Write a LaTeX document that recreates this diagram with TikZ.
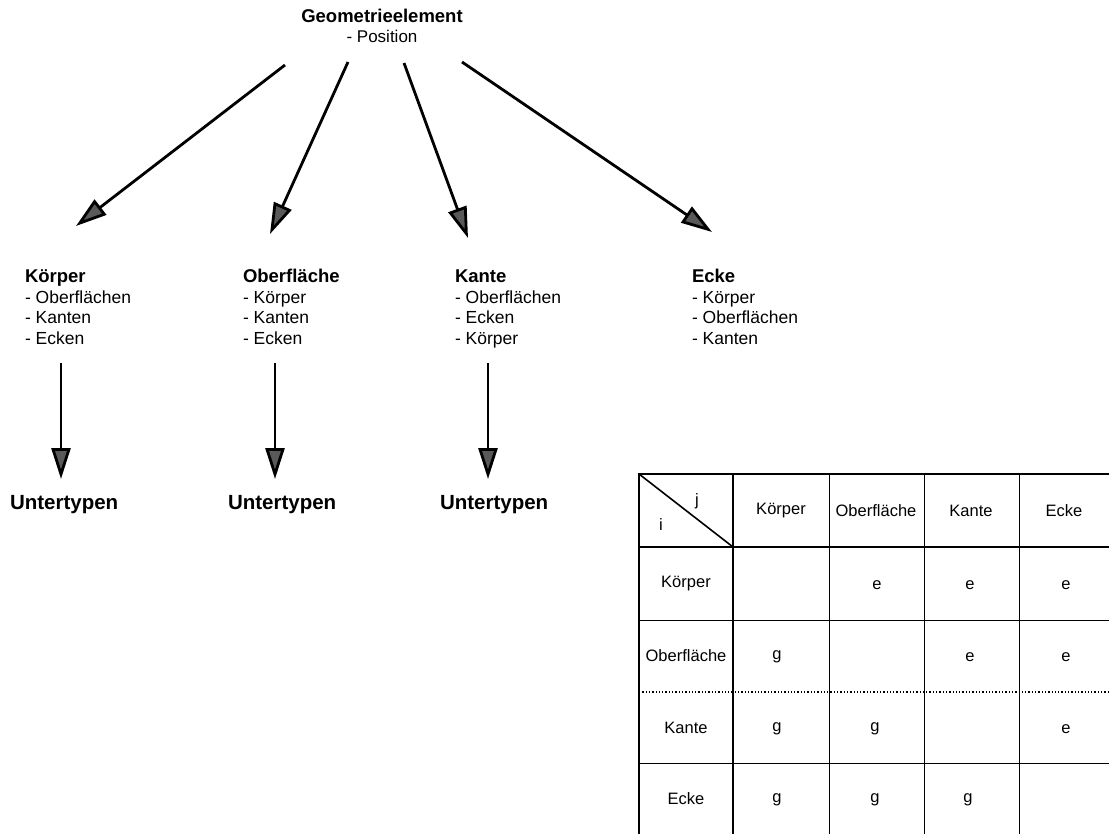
\documentclass[tikz,border=0pt]{standalone}
\usepackage{fontspec}
\setmainfont{Liberation Sans}
\usetikzlibrary{arrows.meta}
\begin{document}
\begin{tikzpicture}[x=1pt,y=-1pt,
  every node/.style={inner sep=0pt, outer sep=0pt},
  grp/.style={anchor=base west, align=left, font=\fontsize{17.5}{20.5}\selectfont},
  hd/.style={font=\bfseries\fontsize{20.5}{22}\selectfont},
  arr/.style={line width=2.8pt, -{Triangle[length=31pt,width=19pt,fill=black!65]}},
  thickline/.style={line width=2pt},
  thinline/.style={line width=0.9pt},
  dotline/.style={line width=1.3pt, dotted},
  cell/.style={font=\fontsize{16.5}{18}\selectfont, anchor=center},
]
\useasboundingbox (0,0) rectangle (1109,834);

% title
\node[align=center, anchor=north, font=\fontsize{17}{20}\selectfont] (geo) at (382,9)
  {{\bfseries\fontsize{18.5}{20}\selectfont Geometrieelement}\\- Position};

% groups (base anchor = baseline of the last line)
\node[grp] (koerper) at (25,344.5) {{\bfseries\fontsize{18.5}{20.5}\selectfont Körper}\\- Oberflächen\\- Kanten\\- Ecken};
\node[grp] (oberfl) at (243,344.5) {{\bfseries\fontsize{18.5}{20.5}\selectfont Oberfläche}\\- Körper\\- Kanten\\- Ecken};
\node[grp] (kante) at (455,344.5) {{\bfseries\fontsize{18.5}{20.5}\selectfont Kante}\\- Oberflächen\\- Ecken\\- Körper};
\node[grp] (ecke) at (692,344.5) {{\bfseries\fontsize{18.5}{20.5}\selectfont Ecke}\\- Körper\\- Oberflächen\\- Kanten};

\node[hd, anchor=base west] (u1) at (10,509) {Untertypen};
\node[hd, anchor=base west] (u2) at (228,509) {Untertypen};
\node[hd, anchor=base west] (u3) at (440,509) {Untertypen};

% arrows from title
\coordinate (s1) at (285,65);  \coordinate (t1) at (76,226);
\coordinate (s2) at (348,62);  \coordinate (t2) at (270,234);
\coordinate (s3) at (404,63);  \coordinate (t3) at (468,238);
\coordinate (s4) at (462,62);  \coordinate (t4) at (712,232);
\draw[arr] (s1) -- (t1);
\draw[arr] (s2) -- (t2);
\draw[arr] (s3) -- (t3);
\draw[arr] (s4) -- (t4);

% vertical arrows
\coordinate (v1s) at (61,363);  \coordinate (v1e) at (61,479);
\coordinate (v2s) at (275,363); \coordinate (v2e) at (275,479);
\coordinate (v3s) at (488,363); \coordinate (v3e) at (488,479);
\draw[arr] (v1s) -- (v1e);
\draw[arr] (v2s) -- (v2e);
\draw[arr] (v3s) -- (v3e);

% table grid
\draw[thickline] (639,474) -- (1109,474);
\draw[thickline] (639,547) -- (1109,547);
\draw[thinline] (639,620) -- (1109,620);
\draw[dotline] (639,692) -- (1109,692);
\draw[thinline] (639,763) -- (1109,763);
\draw[thickline] (639,473) -- (639,834);
\draw[thickline] (733,474) -- (733,834);
\draw[thinline] (829,474) -- (829,834);
\draw[thinline] (924,474) -- (924,834);
\draw[thinline] (1019,474) -- (1019,834);
\draw[line width=1.6pt] (639,474) -- (733,547);

\node[cell] (j) at (697,501) {j};
\node[cell] (i) at (661,525) {i};

% column headers
\node[cell] (ck) at (781,511) {Körper};
\node[cell] (co) at (876,511) {Oberfläche};
\node[cell] (cka) at (971,511) {Kante};
\node[cell] (ce) at (1064,511) {Ecke};

% row headers
\node[cell] (rk) at (686,584) {Körper};
\node[cell] (ro) at (686,656) {Oberfläche};
\node[cell] (rka) at (686,728) {Kante};
\node[cell] (re) at (686,799) {Ecke};

% entries
\node[cell] (e12) at (877,585) {e};
\node[cell] (e13) at (970,585) {e};
\node[cell] (e14) at (1066,585) {e};
\node[cell] (e21) at (777,657) {g};
\node[cell] (e23) at (970,657) {e};
\node[cell] (e24) at (1066,657) {e};
\node[cell] (e31) at (777,729) {g};
\node[cell] (e32) at (875,729) {g};
\node[cell] (e34) at (1066,729) {e};
\node[cell] (e41) at (777,800) {g};
\node[cell] (e42) at (875,800) {g};
\node[cell] (e43) at (968,800) {g};
\end{tikzpicture}
\end{document}
